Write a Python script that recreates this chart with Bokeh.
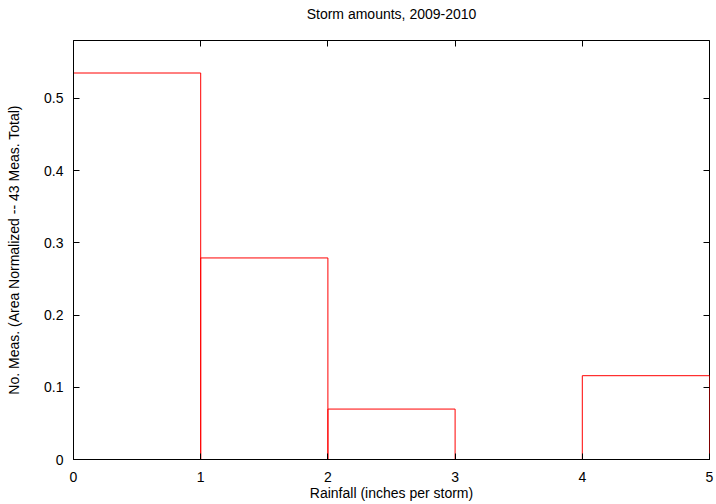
from bokeh.plotting import figure
from bokeh.models import LinearAxis, Range1d, FixedTicker
from bokeh.embed import file_html
from bokeh.resources import INLINE

# Data (fraction of 43 storms per 1-inch bin)
bin_left = [0, 1, 2, 3, 4]
bin_right = [1, 2, 3, 4, 5]
fractions = [0.535, 0.279, 0.0698, 0.0, 0.116]

x_ticks = [0, 1, 2, 3, 4, 5]
y_ticks = [0, 0.1, 0.2, 0.3, 0.4, 0.5]
y_tick_labels = ["0", "0.1", "0.2", "0.3", "0.4", "0.5"]
title_text = "Storm amounts, 2009-2010"

FONT = "Liberation Sans"

p = figure(width=716, height=504, output_backend="svg", toolbar_location=None,
           x_range=Range1d(0, 5), y_range=Range1d(0, 0.58),
           min_border_left=73, min_border_right=7, min_border_top=40, min_border_bottom=45)

p.grid.visible = False
p.outline_line_color = "#000000"
p.outline_line_width = 1
p.background_fill_color = "white"
p.border_fill_color = "white"

p.quad(left=bin_left, right=bin_right, top=fractions, bottom=0,
       fill_color=None, line_color="#ff0000", line_width=1)

def style(ax, labels=True):
    ax.major_tick_in = 6
    ax.major_tick_out = 0
    ax.minor_tick_line_color = None
    ax.axis_line_color = "#000000"
    ax.major_tick_line_color = "#000000"
    ax.major_label_text_font = FONT
    ax.major_label_text_font_size = "14px"
    ax.major_label_text_color = "#000000"
    ax.axis_label_text_font = FONT
    ax.axis_label_text_font_size = "14px"
    ax.axis_label_text_font_style = "normal"
    ax.axis_label_text_color = "#000000"
    if not labels:
        ax.major_label_standoff = 0
        ax.axis_line_color = None

p.xaxis.ticker = FixedTicker(ticks=x_ticks)
p.yaxis.ticker = FixedTicker(ticks=y_ticks)
p.yaxis.major_label_overrides = {t: l for t, l in zip(y_ticks, y_tick_labels)}
style(p.xaxis[0])
style(p.yaxis[0])
p.xaxis.axis_label = "Rainfall (inches per storm)"
p.yaxis.axis_label = "No. Meas. (Area Normalized -- 43 Meas. Total)"
p.xaxis.major_label_standoff = 12
p.xaxis.axis_label_standoff = 0
p.yaxis.major_label_standoff = 10
p.yaxis.axis_label_standoff = 19

# Top axis: mirrored ticks, carries the chart title as its label
top_ax = LinearAxis(ticker=FixedTicker(ticks=x_ticks))
style(top_ax, labels=False)
top_ax.major_label_overrides = {t: "" for t in x_ticks}
top_ax.axis_label = title_text
top_ax.axis_label_standoff = 19
p.add_layout(top_ax, "above")

right_ax = LinearAxis(ticker=FixedTicker(ticks=y_ticks))
style(right_ax, labels=False)
right_ax.major_label_overrides = {t: "" for t in y_ticks}
p.add_layout(right_ax, "right")

open("out.html", "w").write(file_html(p, INLINE))
